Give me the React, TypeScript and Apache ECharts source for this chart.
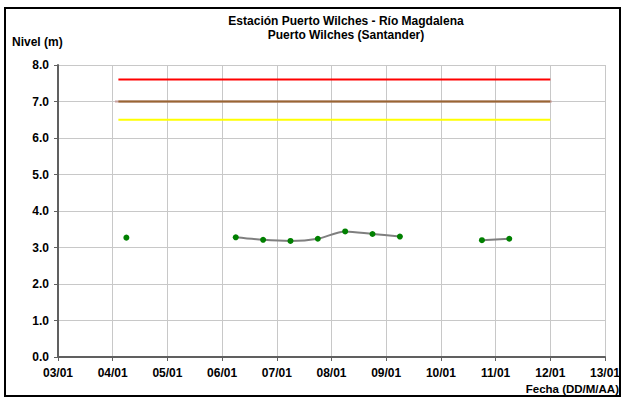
import React, { useEffect, useRef } from "react";
import * as echarts from "echarts";

const titleLines = ["Estación Puerto Wilches - Río Magdalena", "Puerto Wilches (Santander)"];
const yAxisTitle = "Nivel (m)";
const xAxisTitle = "Fecha (DD/M/AA)";

const xMin = "2011-01-03T00:00:00Z";
const xMax = "2011-01-13T00:00:00Z";

// Observed level (null = gap)
const levelTimes = [
  "2011-01-04T06:00:00Z",
  "2011-01-05T12:00:00Z",
  "2011-01-06T06:00:00Z",
  "2011-01-06T18:00:00Z",
  "2011-01-07T06:00:00Z",
  "2011-01-07T18:00:00Z",
  "2011-01-08T06:00:00Z",
  "2011-01-08T18:00:00Z",
  "2011-01-09T06:00:00Z",
  "2011-01-10T00:00:00Z",
  "2011-01-10T18:00:00Z",
  "2011-01-11T06:00:00Z",
];
const levelValues = [3.27, null, 3.28, 3.21, 3.18, 3.24, 3.44, 3.37, 3.3, null, 3.2, 3.24];

// Alert thresholds
const thresholdTimes = ["2011-01-04T02:30:00Z", "2011-01-12T00:00:00Z"];
const redLevel = 7.6;
const orangeLevel = 7.0;
const yellowLevel = 6.5;
const underlayTimes = ["2011-01-04T01:00:00Z", "2011-01-12T00:40:00Z"];

const DAY = 86400000;

export default function App() {
  const ref = useRef<HTMLDivElement>(null);
  useEffect(() => {
    if (!ref.current) return;
    const chart = echarts.init(ref.current, null, { renderer: "svg" });
    const t = (s: string) => Date.parse(s);
    const levelData = levelTimes.map((s, i) => [t(s), levelValues[i] === null ? "-" : levelValues[i]]);
    const thr = (v: number) => thresholdTimes.map((s) => [t(s), v]);
    const font = "Liberation Sans, Arial, sans-serif";
    chart.setOption({
      animation: false,
      backgroundColor: "#ffffff",
      grid: { left: 58, right: 20, top: 65, bottom: 43, containLabel: false },
      xAxis: {
        type: "value",
        min: t(xMin),
        max: t(xMax),
        interval: DAY,
        axisLine: { show: true, lineStyle: { color: "#606060", width: 2 } },
        axisTick: { show: true, inside: false, length: 4, lineStyle: { color: "#606060" } },
        splitLine: { show: true, lineStyle: { color: "#c8c8c8", width: 1 } },
        axisLabel: {
          margin: 10,
          fontFamily: font,
          fontWeight: "bold",
          fontSize: 12,
          color: "#000",
          formatter: (v: number) => {
            const d = new Date(v);
            return String(d.getUTCDate()).padStart(2, "0") + "/" + String(d.getUTCMonth() + 1).padStart(2, "0");
          },
        },
      },
      yAxis: {
        type: "value",
        min: 0,
        max: 8,
        interval: 1,
        axisLine: { show: true, lineStyle: { color: "#606060", width: 2 } },
        axisTick: { show: true, inside: false, length: 4, lineStyle: { color: "#606060" } },
        splitLine: { show: true, lineStyle: { color: "#c8c8c8", width: 1 } },
        axisLabel: {
          margin: 9,
          fontFamily: font,
          fontWeight: "bold",
          fontSize: 12,
          color: "#000",
          formatter: (v: number) => v.toFixed(1),
        },
      },
      graphic: [
        {
          type: "rect",
          shape: { x: 5, y: 8, width: 615, height: 388 },
          style: { fill: "none", stroke: "#000", lineWidth: 2 },
          silent: true,
        },
        {
          type: "text",
          x: 346,
          y: 20.5,
          style: { text: titleLines[0], font: `bold 12px ${font}`, fill: "#000", textAlign: "center", textVerticalAlign: "middle" },
        },
        {
          type: "text",
          x: 346,
          y: 34.5,
          style: { text: titleLines[1], font: `bold 12px ${font}`, fill: "#000", textAlign: "center", textVerticalAlign: "middle" },
        },
        {
          type: "text",
          x: 12,
          y: 41.5,
          style: { text: yAxisTitle, font: `bold 12px ${font}`, fill: "#000", textAlign: "left", textVerticalAlign: "middle" },
        },
        {
          type: "text",
          x: 619,
          y: 389,
          style: { text: xAxisTitle, font: `bold 11.5px ${font}`, fill: "#000", textAlign: "right", textVerticalAlign: "middle" },
        },
      ],
      series: [
        {
          type: "line",
          data: underlayTimes.map((s) => [t(s), orangeLevel]),
          showSymbol: false,
          symbol: "none",
          lineStyle: { color: "#c8a0a0", width: 2 },
          z: 1,
        },
        {
          type: "line",
          data: thr(redLevel),
          symbol: "none",
          lineStyle: { color: "#ff0000", width: 2 },
          z: 2,
        },
        {
          type: "line",
          data: thr(orangeLevel),
          symbol: "none",
          lineStyle: { color: "#996633", width: 2 },
          z: 2,
        },
        {
          type: "line",
          data: thr(yellowLevel),
          symbol: "none",
          lineStyle: { color: "#ffff00", width: 2 },
          z: 2,
        },
        {
          type: "line",
          data: levelData,
          smooth: 0.3,
          connectNulls: false,
          symbol: "circle",
          symbolSize: 6,
          showAllSymbol: true,
          itemStyle: { color: "#008000" },
          lineStyle: { color: "#7f7f7f", width: 2 },
          z: 3,
        },
      ],
    });
    return () => chart.dispose();
  }, []);
  return <div ref={ref} style={{ position: "fixed", left: 0, top: 0, width: 625, height: 400 }} />;
}
